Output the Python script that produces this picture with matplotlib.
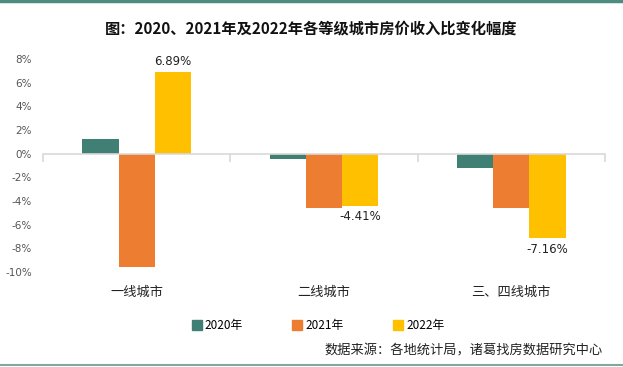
import matplotlib.pyplot as plt
import numpy as np
from matplotlib.lines import Line2D

plt.rcParams['font.family'] = ['Noto Sans CJK SC', 'DejaVu Sans']

# 数据
categories = ['一线城市', '二线城市', '三、四线城市']
years = ['2020年', '2021年', '2022年']
v2020 = [1.24, -0.45, -1.21]
v2021 = [-9.55, -4.59, -4.60]
v2022 = [6.89, -4.41, -7.16]
yticks = [8, 6, 4, 2, 0, -2, -4, -6, -8, -10]
colors = ['#3F7F74', '#ED7D31', '#FFC000']

fig = plt.figure(figsize=(6.23, 3.67), dpi=100)
ax = fig.add_axes([0.069, 0.2589, 0.902, 0.5804])

x = np.arange(len(categories))
w = 0.193
for i, vals in enumerate([v2020, v2021, v2022]):
    ax.bar(x + (i - 1) * w, vals, width=w, color=colors[i], label=years[i], zorder=2)

# 2022 数据标签
for xi, v in zip(x, v2022):
    off = 0.35 if v > 0 else -0.35
    ax.text(xi + w, v + off, f'{v:.2f}%', ha='center', va='bottom' if v > 0 else 'top',
            fontsize=8.5, color='#222222', family=['DejaVu Sans'])

ax.set_xlim(-0.5, 2.5)
ax.set_ylim(-10, 8)
ax.set_yticks(yticks)
ax.set_yticklabels([f'{t}%' for t in yticks], fontsize=7.5, color='#555555', family=['DejaVu Sans'])
ax.tick_params(axis='y', length=0, pad=8)

for s in ['top', 'right', 'left']:
    ax.spines[s].set_visible(False)
ax.spines['bottom'].set_position(('data', 0))
ax.spines['bottom'].set_color('#d9d9d9')
ax.spines['bottom'].set_linewidth(1.2)
ax.set_xticks([])
ax.set_xticks([-0.5, 0.5, 1.5, 2.5], minor=True)
ax.tick_params(axis='x', which='minor', length=6, color='#d9d9d9', width=1.2, labelbottom=False)

for xi, c in zip(x, categories):
    ax.text(xi, -0.094, c, transform=ax.get_xaxis_transform(), ha='center', va='center',
            fontsize=9.5, color='#222222')

# 标题
fig.text(0.5, 0.922, '图：2020、2021年及2022年各等级城市房价收入比变化幅度', ha='center', va='center',
         fontsize=11, fontweight='bold', color='#111111')

# 图例
handles = [Line2D([0], [0], marker='s', linestyle='', markersize=6.5, color=c) for c in colors]
fig.legend(handles, years, loc='center', bbox_to_anchor=(0.51, 0.114), ncol=3, frameon=False,
           fontsize=8.5, columnspacing=4.1, handletextpad=0.2, handlelength=1.0)

# 数据来源
fig.text(0.968, 0.043, '数据来源：各地统计局，诸葛找房数据研究中心', ha='right', va='center',
         fontsize=9.5, color='#222222')

# 上下边线
fig.add_artist(Line2D([0, 1], [0.997, 0.997], color='#4E8C80', linewidth=2.5, transform=fig.transFigure))
fig.add_artist(Line2D([0, 1], [0.006, 0.006], color='#7FA89F', linewidth=1.5, transform=fig.transFigure))

fig.savefig('out.png', dpi=100)
